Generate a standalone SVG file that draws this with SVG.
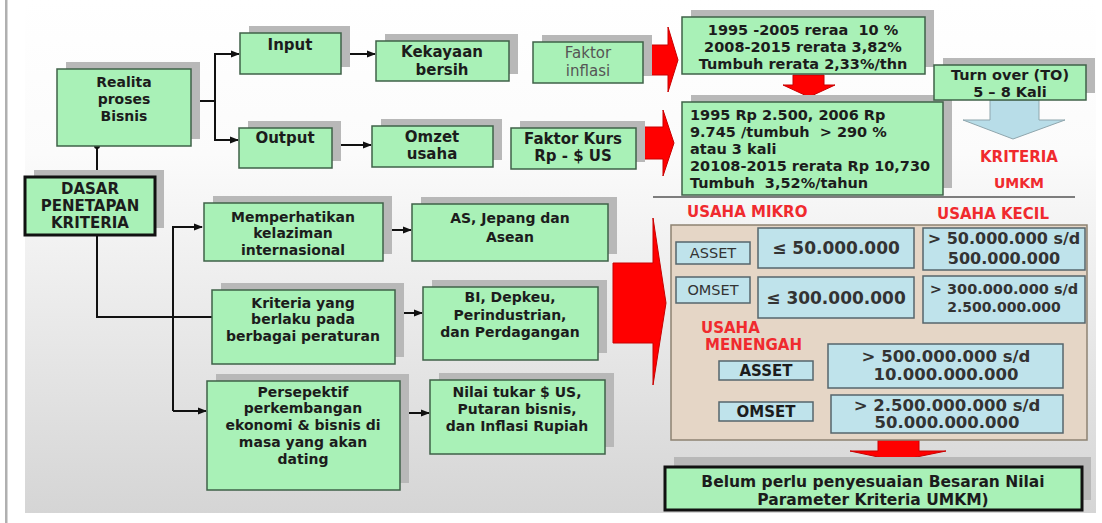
<svg xmlns="http://www.w3.org/2000/svg" width="1102" height="523" viewBox="0 0 1102 523">
<defs>
<linearGradient id="bg" x1="0" y1="0" x2="0" y2="1">
<stop offset="0" stop-color="#ffffff"/>
<stop offset="0.3" stop-color="#fbfbfb"/>
<stop offset="1" stop-color="#d5d5d5"/>
</linearGradient>
<marker id="ah" markerWidth="9" markerHeight="8" refX="8" refY="4" orient="auto" markerUnits="userSpaceOnUse">
<path d="M0,0.5 L9,4 L0,7.5 Z" fill="#111"/>
</marker>
<style>
.g{fill:#a9f1b7;stroke:#3f6148;stroke-width:1.5}
.gk{fill:#a9f1b7;stroke:#111;stroke-width:3}
.sh{fill:#b8b8b8}
.b{fill:#bfe3eb;stroke:#56666c;stroke-width:1.5}
.t{font-family:"DejaVu Sans",Verdana,sans-serif;font-weight:bold;font-size:14px;fill:#1c1c1c;text-anchor:middle;white-space:pre}
.tl{text-anchor:start}
.n{font-weight:normal}
.rt{font-family:"DejaVu Sans",Verdana,sans-serif;font-weight:bold;font-size:14px;fill:#f02a2e}
.ra{fill:#ff0000;stroke:#c80000;stroke-width:1}
.ln{fill:none;stroke:#111;stroke-width:2}
</style>
</defs>
<rect x="0" y="0" width="1102" height="523" fill="#ffffff"/>
<rect x="25" y="0" width="1071" height="513" fill="url(#bg)"/>
<rect x="5" y="0" width="2.5" height="523" fill="#b0b0b0"/>

<g id="connectors">
<polyline class="ln" points="191,101 215,101"/>
<polyline class="ln" points="215,101 215,54 239,54" marker-end="url(#ah)"/>
<polyline class="ln" points="215,101 215,140 238,140" marker-end="url(#ah)"/>
<line class="ln" x1="341" y1="54" x2="375" y2="54" marker-end="url(#ah)"/>
<line class="ln" x1="332" y1="145" x2="371" y2="145" marker-end="url(#ah)"/>
<line class="ln" x1="97" y1="177" x2="97" y2="147"/>
<circle cx="97" cy="146" r="3" fill="#111"/>
<polyline class="ln" points="97,235 97,317 212,317"/>
<polyline class="ln" points="173,411 173,227 202,227" marker-end="url(#ah)"/>
<line class="ln" x1="173" y1="411" x2="206" y2="411" marker-end="url(#ah)"/>
<line class="ln" x1="383" y1="230" x2="411" y2="230" marker-end="url(#ah)"/>
<line class="ln" x1="395" y1="313" x2="422" y2="313" marker-end="url(#ah)"/>
<line class="ln" x1="400" y1="413" x2="429" y2="413" marker-end="url(#ah)"/>
<line x1="653" y1="197" x2="1075" y2="197" stroke="#555" stroke-width="1.5"/>
<polygon class="ra" points="648,45 668,45 668,27 678,60 668,92 668,75 648,75"/>
<polygon class="ra" points="643,127 663,127 663,110 674,143 663,176 663,159 643,159"/>
<polygon class="ra" points="793,75 824,75 824,85 835,85 809,97 783,85 793,85"/>
<polygon class="ra" points="613,263 653,263 653,218 666,303 653,385 653,343 613,343"/>
<polygon class="ra" points="878,440 919,440 919,451 946,451 897,461 850,451 878,451"/>
<polygon points="990,100 1039,100 1039,120 1065,120 1013,139 963,120 990,120" fill="#b8dde8" stroke="#8fa6ad" stroke-width="1"/>
</g>

<g id="realita">
<rect class="sh" x="66" y="62" width="134" height="77"/>
<rect class="g" x="57" y="69" width="134" height="77"/>
<text class="t" x="124" y="87">Realita</text>
<text class="t" x="124" y="104">proses</text>
<text class="t" x="124" y="121">Bisnis</text>
</g>
<g id="input">
<rect class="sh" x="249" y="26" width="101" height="41"/>
<rect class="g" x="240" y="33" width="101" height="41"/>
<text class="t" x="290" y="50" style="font-size:15px">Input</text>
</g>
<g id="output">
<rect class="sh" x="248" y="121" width="93" height="40"/>
<rect class="g" x="239" y="128" width="93" height="40"/>
<text class="t" x="285" y="143" style="font-size:15px">Output</text>
</g>
<g id="kekayaan">
<rect class="sh" x="385" y="34" width="133" height="40"/>
<rect class="g" x="376" y="41" width="133" height="40"/>
<text class="t" x="442" y="57" style="font-size:15px">Kekayaan</text>
<text class="t" x="442" y="75" style="font-size:15px">bersih</text>
</g>
<g id="omzet">
<rect class="sh" x="381" y="119" width="121" height="41"/>
<rect class="g" x="372" y="126" width="121" height="41"/>
<text class="t" x="432" y="142" style="font-size:15px">Omzet</text>
<text class="t" x="432" y="159" style="font-size:15px">usaha</text>
</g>
<g id="faktor-inflasi">
<rect class="sh" x="542" y="35" width="110" height="41"/>
<rect class="g" x="533" y="42" width="110" height="41"/>
<text class="t n" x="588" y="58" style="font-size:15px;fill:#555">Faktor</text>
<text class="t n" x="588" y="76" style="font-size:15px;fill:#555">inflasi</text>
</g>
<g id="faktor-kurs">
<rect class="sh" x="520" y="121" width="125" height="41"/>
<rect class="g" x="511" y="128" width="125" height="41"/>
<text class="t" x="573" y="144" style="font-size:15px">Faktor Kurs</text>
<text class="t" x="573" y="161" style="font-size:15px">Rp - $ US</text>
</g>
<g id="inflasi-data">
<rect class="sh" x="691" y="10" width="243" height="57"/>
<rect class="g" x="682" y="17" width="243" height="57"/>
<text class="t" x="803" y="35" style="font-size:14.5px">1995 -2005 reraa  10 %</text>
<text class="t" x="803" y="52" style="font-size:14.5px">2008-2015 rerata 3,82%</text>
<text class="t" x="803" y="69" style="font-size:14.5px">Tumbuh rerata 2,33%/thn</text>
</g>
<g id="kurs-data">
<rect class="sh" x="691" y="95" width="261" height="93"/>
<rect class="g" x="682" y="102" width="261" height="93"/>
<text class="t tl" x="690" y="120" style="font-size:14.5px">1995 Rp 2.500, 2006 Rp</text>
<text class="t tl" x="690" y="137" style="font-size:14.5px">9.745 /tumbuh  &gt; 290 %</text>
<text class="t tl" x="690" y="154" style="font-size:14.5px">atau 3 kali</text>
<text class="t tl" x="690" y="171" style="font-size:14.5px">20108-2015 rerata Rp 10,730</text>
<text class="t tl" x="690" y="188" style="font-size:14.5px">Tumbuh  3,52%/tahun</text>
</g>
<g id="turnover">
<rect class="sh" x="943" y="58" width="152" height="35"/>
<rect class="g" x="934" y="65" width="152" height="35"/>
<text class="t" x="1010" y="80" style="font-size:14.5px">Turn over (TO)</text>
<text class="t" x="1010" y="97" style="font-size:14.5px">5 – 8 Kali</text>
</g>
<g id="kriteria-umkm">
<text class="rt" x="1019" y="162" text-anchor="middle" style="font-size:15px">KRITERIA</text>
<text class="rt" x="1019" y="188" text-anchor="middle" style="font-size:14px">UMKM</text>
</g>
<g id="dasar">
<rect class="sh" x="34" y="170" width="130" height="58"/>
<rect class="gk" x="25" y="177" width="130" height="58"/>
<text class="t" x="90" y="194" style="font-size:15px">DASAR</text>
<text class="t" x="90" y="211" style="font-size:15px">PENETAPAN</text>
<text class="t" x="90" y="228" style="font-size:15px">KRITERIA</text>
</g>
<g id="memperhatikan">
<rect class="sh" x="213" y="196" width="179" height="58"/>
<rect class="g" x="204" y="203" width="179" height="58"/>
<text class="t" x="293" y="222">Memperhatikan</text>
<text class="t" x="293" y="238">kelaziman</text>
<text class="t" x="293" y="255">internasional</text>
</g>
<g id="kriteria">
<rect class="sh" x="221" y="283" width="183" height="74"/>
<rect class="g" x="212" y="290" width="183" height="74"/>
<text class="t" x="303" y="308">Kriteria yang</text>
<text class="t" x="303" y="324">berlaku pada</text>
<text class="t" x="303" y="341">berbagai peraturan</text>
</g>
<g id="persepektif">
<rect class="sh" x="216" y="374" width="193" height="109"/>
<rect class="g" x="207" y="381" width="193" height="109"/>
<text class="t" x="303" y="397">Persepektif</text>
<text class="t" x="303" y="413">perkembangan</text>
<text class="t" x="303" y="430">ekonomi &amp; bisnis di</text>
<text class="t" x="303" y="447">masa yang akan</text>
<text class="t" x="303" y="464">dating</text>
</g>
<g id="as-jepang">
<rect class="sh" x="421" y="197" width="196" height="57"/>
<rect class="g" x="412" y="204" width="196" height="57"/>
<text class="t" x="510" y="223">AS, Jepang dan</text>
<text class="t" x="510" y="242">Asean</text>
</g>
<g id="bi-depkeu">
<rect class="sh" x="432" y="280" width="175" height="73"/>
<rect class="g" x="423" y="287" width="175" height="73"/>
<text class="t" x="510" y="302">BI, Depkeu,</text>
<text class="t" x="510" y="320">Perindustrian,</text>
<text class="t" x="510" y="337">dan Perdagangan</text>
</g>
<g id="nilai-tukar">
<rect class="sh" x="439" y="373" width="175" height="74"/>
<rect class="g" x="430" y="380" width="175" height="74"/>
<text class="t" x="517" y="397">Nilai tukar $ US,</text>
<text class="t" x="517" y="414">Putaran bisnis,</text>
<text class="t" x="517" y="431">dan Inflasi Rupiah</text>
</g>
<g id="kriteria-panel">
<text class="rt" x="687" y="217" style="font-size:15px">USAHA MIKRO</text>
<text class="rt" x="937" y="219" style="font-size:15px">USAHA KECIL</text>
<rect x="671" y="225" width="416" height="215" fill="#e5d6c6" stroke="#8d8272" stroke-width="1.5"/>
</g>
<g id="mikro-asset">
<rect class="b" x="676" y="242" width="74" height="22"/>
<text class="t n" x="713" y="258" style="font-size:14.5px;fill:#333">ASSET</text>
</g>
<g id="mikro-asset-val">
<rect class="b" x="758" y="228" width="156" height="40"/>
<text class="t" x="836" y="254" style="font-size:17px;fill:#333">≤ 50.000.000</text>
</g>
<g id="kecil-asset-val">
<rect class="b" x="923" y="228" width="162" height="42"/>
<text class="t" x="1004" y="244" style="font-size:16px;fill:#333">&gt; 50.000.000 s/d</text>
<text class="t" x="1004" y="264" style="font-size:16px;fill:#333">500.000.000</text>
</g>
<g id="mikro-omset">
<rect class="b" x="676" y="277" width="74" height="26"/>
<text class="t n" x="713" y="295" style="font-size:14.5px;fill:#333">OMSET</text>
</g>
<g id="mikro-omset-val">
<rect class="b" x="758" y="277" width="156" height="41"/>
<text class="t" x="836" y="304" style="font-size:17px;fill:#333">≤ 300.000.000</text>
</g>
<g id="kecil-omset-val">
<rect class="b" x="923" y="276" width="162" height="47"/>
<text class="t" x="1004" y="294" style="font-size:14.5px;fill:#333">&gt; 300.000.000 s/d</text>
<text class="t" x="1004" y="312" style="font-size:14px;fill:#333">2.500.000.000</text>
</g>
<g id="menengah-label">
<text class="rt" x="701" y="333" style="font-size:15px">USAHA</text>
<text class="rt" x="705" y="350" style="font-size:15px">MENENGAH</text>
</g>
<g id="menengah-asset">
<rect class="b" x="719" y="361" width="94" height="19"/>
<text class="t" x="766" y="376" style="font-size:15px">ASSET</text>
</g>
<g id="menengah-asset-val">
<rect class="b" x="828" y="344" width="235" height="44"/>
<text class="t" x="946" y="362" style="font-size:16.5px;fill:#333">&gt; 500.000.000 s/d</text>
<text class="t" x="946" y="380" style="font-size:16.5px;fill:#333">10.000.000.000</text>
</g>
<g id="menengah-omset">
<rect class="b" x="719" y="402" width="94" height="19"/>
<text class="t" x="766" y="417" style="font-size:15px">OMSET</text>
</g>
<g id="menengah-omset-val">
<rect class="b" x="831" y="395" width="232" height="38"/>
<text class="t" x="947" y="411" style="font-size:16.5px;fill:#333">&gt; 2.500.000.000 s/d</text>
<text class="t" x="947" y="428" style="font-size:16.5px;fill:#333">50.000.000.000</text>
</g>
<g id="kesimpulan">
<rect class="sh" x="674" y="457" width="417" height="43"/>
<rect class="gk" x="665" y="467" width="417" height="43"/>
<text class="t" x="873" y="487" style="font-size:15.5px">Belum perlu penyesuaian Besaran Nilai</text>
<text class="t" x="873" y="505" style="font-size:15.5px">Parameter Kriteria UMKM)</text>
</g>
</svg>
